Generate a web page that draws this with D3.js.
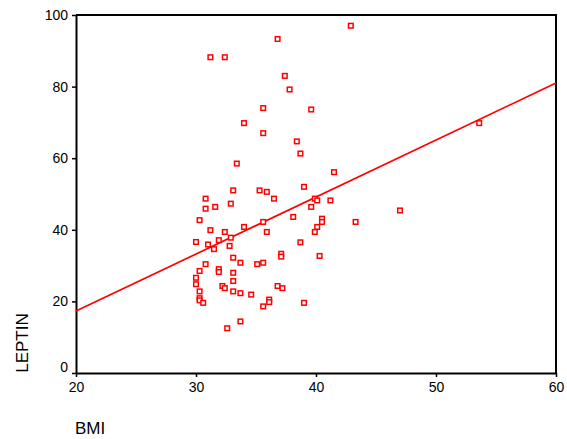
<!DOCTYPE html>
<html lang="en">
<head>
  <script src="https://d3js.org/d3.v7.min.js"></script>
  <style>
    body { margin: 0; background: #fff; }
    svg text { font-family: "Liberation Sans", Arial, sans-serif; fill: #000; }
    .tick text { font-size: 14px; }
    .axis path, .axis line { stroke: #000; }
  </style>
</head>
<body>
<script>
  // BMI / LEPTIN pairs
  var bmi = [42.9, 36.8, 31.2, 32.4, 37.4, 37.8, 35.6, 39.6, 34.0, 35.6, 38.4,
             33.4, 33.1, 35.3, 35.9, 30.8, 36.5, 32.9, 30.8, 31.6, 30.3, 35.6,
             34.0, 31.2, 35.9, 32.4, 32.9, 31.9, 30.0, 31.0, 32.8, 31.5, 37.1,
             37.1, 33.1, 38.7, 41.5, 39.0, 39.9, 40.1, 41.2, 39.6, 38.1, 40.5,
             40.5, 43.3, 40.1, 39.9, 38.7, 40.3, 30.8, 33.7, 35.1, 35.6, 30.3,
             31.9, 31.9, 33.1, 30.0, 33.1, 30.0, 32.2, 32.4, 36.8, 37.2, 30.3,
             33.1, 33.7, 34.6, 30.3, 30.3, 30.6, 36.1, 36.1, 35.6, 33.7, 32.6,
             39.0, 53.6, 47.0];
  var leptin = [97.0, 93.3, 88.2, 88.2, 83.0, 79.2, 74.0, 73.6, 69.8, 67.0, 64.7,
                58.5, 51.0, 51.0, 50.6, 48.7, 48.7, 47.3, 45.9, 46.4, 42.7, 42.2,
                40.8, 39.9, 39.4, 39.4, 37.8, 37.1, 36.6, 35.9, 35.5, 34.6, 33.3,
                32.5, 32.2, 61.3, 56.1, 52.0, 48.7, 48.2, 48.2, 46.4, 43.6, 43.1,
                42.2, 42.2, 40.8, 39.4, 36.5, 32.7, 30.4, 30.8, 30.4, 30.8, 28.5,
                29.0, 28.2, 28.0, 26.6, 25.7, 24.8, 24.3, 23.7, 24.3, 23.7, 22.8,
                22.8, 22.3, 21.9, 20.9, 20.3, 19.6, 20.5, 19.8, 18.6, 14.4, 12.5,
                19.6, 69.8, 45.4];
  // fitted line, end points
  var fitBmi = [20, 60];
  var fitLeptin = [17.3, 81.0];
  var xTicks = [20, 30, 40, 50, 60];
  var yTicks = [0, 20, 40, 60, 80, 100];

  var W = 567, H = 439;
  var pLeft = 76, pRight = 556, pTop = 15, pBottom = 373;

  var svg = d3.select("body").append("svg").attr("width", W).attr("height", H);

  var x = d3.scaleLinear().domain([20, 60]).range([pLeft, pRight]);
  var y = d3.scaleLinear().domain([0, 100]).range([pBottom, pTop]);

  // frame top/right
  svg.append("path")
    .attr("d", "M" + pLeft + "," + pTop + "H" + pRight + "V" + pBottom)
    .attr("fill", "none").attr("stroke", "#000").attr("stroke-width", 2);

  var gx = svg.append("g").attr("class", "axis")
    .attr("transform", "translate(0," + pBottom + ")")
    .call(d3.axisBottom(x).tickValues(xTicks).tickSize(4).tickPadding(5).tickSizeOuter(0));
  gx.select(".domain").attr("stroke-width", 2);

  var gy = svg.append("g").attr("class", "axis")
    .attr("transform", "translate(" + pLeft + ",0)")
    .call(d3.axisLeft(y).tickValues(yTicks).tickSize(4).tickPadding(4).tickSizeOuter(0));
  gy.select(".domain").attr("stroke-width", 2);
  gy.selectAll(".tick line").attr("stroke-width", 1.5);
  gx.selectAll(".tick line").attr("stroke-width", 1.5);
  gy.selectAll(".tick text").filter(function(d) { return d === 0; }).attr("dy", "-0.1em");

  // regression line
  var line = d3.line().x(function(d) { return x(d[0]); }).y(function(d) { return y(d[1]); });
  svg.append("path")
    .datum(d3.zip(fitBmi, fitLeptin))
    .attr("d", line)
    .attr("fill", "none").attr("stroke", "#f00").attr("stroke-width", 1.7);

  // points
  svg.append("g").selectAll("rect")
    .data(d3.zip(bmi, leptin))
    .enter().append("rect")
    .attr("x", function(d) { return x(d[0]) - 2.3; })
    .attr("y", function(d) { return y(d[1]) - 2.3; })
    .attr("width", 4.6).attr("height", 4.6)
    .attr("fill", "#fff").attr("stroke", "#f00").attr("stroke-width", 1.5);

  svg.append("text")
    .attr("transform", "translate(28,343) rotate(-90)")
    .attr("text-anchor", "middle")
    .style("font-size", "17px")
    .text("LEPTIN");

  svg.append("text")
    .attr("x", 75).attr("y", 434)
    .style("font-size", "17px")
    .text("BMI");
</script>
</body>
</html>
